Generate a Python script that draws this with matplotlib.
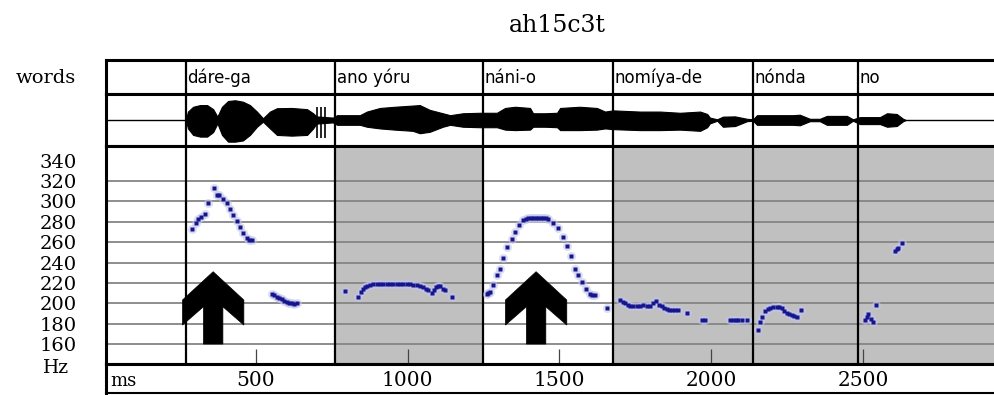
import matplotlib
matplotlib.use('Agg')
import matplotlib.pyplot as plt
from matplotlib.patches import Polygon

# ---------------- data ----------------
title = "ah15c3t"
row_label = "words"
words = ["dáre-ga", "ano yóru", "náni-o", "nomíya-de", "nónda", "no"]
word_start_ms = [270, 761, 1249, 1676, 2137, 2481]
word_shaded = [False, True, False, True, True, True]

y_ticks_hz = [340, 320, 300, 280, 260, 240, 220, 200, 180, 160]
grid_hz = [320, 300, 280, 260, 240, 220, 200, 180, 160]
y_unit = "Hz"
x_ticks_ms = [500, 1000, 1500, 2000, 2500]
x_unit = "ms"

arrow_ms = [360, 1423]

# waveform envelope (relative amplitude, upper / lower)
wave_ms = [270, 277, 294, 317, 340, 360, 374, 389, 409, 432, 458, 481, 504, 524,
           547, 570, 619, 669, 689, 700, 754, 768, 843, 866, 909, 958, 1017,
           1040, 1073, 1116, 1140, 1182, 1238, 1294, 1321, 1354, 1403, 1413,
           1452, 1492, 1502, 1567, 1623, 1650, 1676, 1765, 1831, 1897, 1963,
           1986, 1995, 2019, 2038, 2078, 2117, 2137, 2150, 2209, 2268, 2291,
           2324, 2357, 2380, 2446, 2466, 2489, 2555, 2578, 2610, 2631, 2640]
wave_up = [0.0, 0.35, 0.55, 0.62, 0.62, 0.45, 0.14, 0.55, 0.79, 0.82, 0.76, 0.62,
           0.35, 0.07, 0.35, 0.49, 0.50, 0.45, 0.28, 0.15, 0.10, 0.20, 0.20,
           0.35, 0.50, 0.55, 0.60, 0.62, 0.42, 0.28, 0.20, 0.28, 0.30, 0.30,
           0.50, 0.55, 0.50, 0.28, 0.28, 0.30, 0.50, 0.55, 0.50, 0.35, 0.40,
           0.35, 0.35, 0.30, 0.35, 0.25, 0.10, 0.03, 0.14, 0.15, 0.05, 0.03,
           0.20, 0.20, 0.20, 0.22, 0.05, 0.05, 0.17, 0.17, 0.03, 0.12, 0.12,
           0.28, 0.25, 0.05, 0.0]
wave_down = [0.0, 0.35, 0.62, 0.69, 0.69, 0.50, 0.14, 0.62, 0.90, 0.90, 0.85, 0.62,
             0.28, 0.07, 0.35, 0.62, 0.65, 0.62, 0.35, 0.15, 0.10, 0.20, 0.20,
             0.28, 0.35, 0.40, 0.45, 0.55, 0.49, 0.28, 0.20, 0.28, 0.30, 0.30,
             0.40, 0.42, 0.40, 0.28, 0.28, 0.30, 0.42, 0.42, 0.40, 0.35, 0.38,
             0.42, 0.42, 0.40, 0.45, 0.30, 0.14, 0.03, 0.28, 0.25, 0.05, 0.03,
             0.20, 0.20, 0.20, 0.22, 0.05, 0.05, 0.20, 0.20, 0.03, 0.17, 0.17,
             0.28, 0.25, 0.05, 0.0]
spike_ms = [701, 714, 728]

# pitch track (ms, Hz)
pitch_ms = [289, 303, 311, 320, 333, 344, 364, 371, 380, 391, 405, 415, 426, 437,
            448, 459, 470, 479, 487,
            553, 560, 569, 578, 586, 594, 602, 610, 618, 627, 635,
            794, 838, 845, 852, 860, 868, 876, 887, 898, 909, 920, 931, 942, 953,
            964, 975, 986, 997, 1008, 1019, 1030, 1041, 1052, 1060, 1068, 1079,
            1087, 1094, 1101, 1107, 1115, 1123, 1145,
            1260, 1266, 1271, 1282, 1293, 1304, 1315, 1328, 1343, 1353, 1368,
            1381, 1390, 1397, 1405, 1414, 1422, 1430, 1438, 1447, 1455, 1463,
            1480, 1496, 1510, 1524, 1537, 1551, 1562, 1575, 1587, 1600, 1608,
            1617, 1655,
            1699, 1708, 1716, 1724, 1732, 1743, 1754, 1765, 1776, 1787, 1798,
            1808, 1818, 1828, 1836, 1845, 1853, 1862, 1870, 1880, 1891, 1919,
            1968, 1979, 2061, 2070, 2080, 2089, 2100, 2116,
            2154, 2160, 2168, 2176, 2185, 2193, 2204, 2215, 2223, 2231, 2240,
            2248, 2256, 2264, 2272, 2281, 2295,
            2506, 2512, 2516, 2525, 2533, 2541, 2604, 2610, 2615, 2628]
pitch_hz = [273, 279, 283, 285, 288, 298, 313, 306, 306, 302, 298, 293, 287, 281,
            275, 269, 264, 262, 262,
            209, 208, 206, 205, 204, 202, 201, 200, 200, 199, 200,
            212, 206, 211, 214, 216, 217, 218, 218.5, 218.6, 219, 219, 219, 219,
            219, 219, 219, 219, 219, 218.5, 218, 218, 217, 216, 214, 213, 210,
            213, 216, 217, 217, 214, 213, 206,
            209, 210, 211, 218, 228, 234, 244, 255, 263, 270, 277,
            282, 283, 284, 284, 284, 284, 284, 284, 284, 283.5, 283,
            278.5, 273.5, 265, 256, 246, 234, 228, 221, 214, 209, 208,
            208, 195,
            203, 201, 200, 198, 197, 197, 197, 197.5, 198, 197, 197,
            200, 202, 198, 197, 195, 194, 193, 193, 193, 193, 190,
            184, 184, 184, 184, 184, 184, 184, 184,
            174, 182, 187, 192, 194, 195, 196.5, 196.6, 196, 195, 192,
            190, 189, 188.5, 187.5, 187, 193,
            184, 187, 189, 185, 182, 198, 251, 253, 254, 259]

# ---------------- layout ----------------
W, H = 995, 395
fig = plt.figure(figsize=(W / 100, H / 100), dpi=100)
fig.patch.set_facecolor('white')

PX0 = 103.8          # pixel of 0 ms
PXMS = 0.3038        # pixels per ms
LEFT_PX, RIGHT_PX = 106, 1000
xlim = ((LEFT_PX - PX0) / PXMS, (RIGHT_PX - PX0) / PXMS)


def add_row(top_px, bot_px):
    return fig.add_axes([LEFT_PX / W, 1 - bot_px / H,
                         (RIGHT_PX - LEFT_PX) / W, (bot_px - top_px) / H])


ax_w = add_row(60, 94)
ax_wave = add_row(94, 146)
ax_p = add_row(146, 364)
ax_x = add_row(364, 393)

THICK = 2.2
for ax in (ax_w, ax_wave, ax_p, ax_x):
    ax.set_xlim(*xlim)
    ax.set_facecolor('white')
    ax.spines['right'].set_visible(False)
    for s in ('left', 'top', 'bottom'):
        ax.spines[s].set_linewidth(THICK)
        ax.spines[s].set_color('black')
    ax.set_yticks([])
    ax.set_xticks([])
ax_x.spines['bottom'].set_linewidth(1.5)

serif = 'DejaVu Serif'

# word row
ax_w.set_ylim(0, 1)
for w, s in zip(words, word_start_ms):
    ax_w.text(s + 5, 0.47, w, ha='left', va='center', fontsize=12,
              family='DejaVu Sans', color='black')

# waveform
ax_wave.set_ylim(-1.08, 1.08)
ax_wave.axhline(0, color='black', lw=1.0)
ax_wave.fill_between(wave_ms, wave_up, [-v for v in wave_down],
                     color='black', lw=0.8, edgecolor='black')
ax_wave.vlines(spike_ms, -0.76, 0.55, color='black', lw=1.2)

# pitch area
ylo, yhi = 140.4, 354.4
ax_p.set_ylim(ylo, yhi)
bounds = word_start_ms + [xlim[1]]
for i, shaded in enumerate(word_shaded):
    if shaded:
        ax_p.axvspan(bounds[i], bounds[i + 1], color='#c0c0c0', lw=0, zorder=0)
for g in grid_hz:
    ax_p.axhline(g, color='#858585', lw=1.3, zorder=1)

# word boundaries
for ax in (ax_w, ax_wave, ax_p):
    for s in word_start_ms:
        ax.axvline(s, color='black', lw=1.6, zorder=3)

# arrows (shape in ms / Hz offsets)
for a in arrow_ms:
    hw, sw = 101, 32
    pts = [(a, 231), (a + hw, 203.2), (a + hw, 178.6), (a + sw, 196.6),
           (a + sw, 160), (a - sw, 160), (a - sw, 196.6), (a - hw, 178.6),
           (a - hw, 203.2)]
    ax_p.add_patch(Polygon(pts, closed=True, facecolor='black',
                           edgecolor='black', lw=0.5, zorder=4))

# pitch dots
ax_p.plot(pitch_ms, pitch_hz, ls='none', marker='o', ms=6.5,
          color='#c4c4ee', alpha=0.55, mec='none', zorder=5)
ax_p.plot(pitch_ms, pitch_hz, ls='none', marker='s', ms=2.9,
          color='#16168c', mec='none', zorder=6)

# y tick labels
ax_p.set_yticks(y_ticks_hz)
ax_p.set_yticklabels([str(v) for v in y_ticks_hz], family=serif, fontsize=14)
ax_p.tick_params(axis='y', length=0, pad=21)
# x ticks (inner marks)
ax_p.set_xticks(x_ticks_ms)
ax_p.tick_params(axis='x', direction='in', length=11, width=0.9,
                 color='#444444', labelbottom=False)

# axis row labels
trans = ax_x.get_xaxis_transform()
for t in x_ticks_ms:
    ax_x.text(t, 0.42, str(t), transform=trans, ha='center', va='center',
              family=serif, fontsize=14.5)
ax_x.text(0.005, 0.42, x_unit, transform=ax_x.transAxes, ha='left',
          va='center', family=serif, fontsize=13)
ax_x.set_ylim(0, 1)

# left labels & title
fig.text(76 / W, 1 - 78 / H, row_label, ha='right', va='center',
         family=serif, fontsize=14)
fig.text(56 / W, 1 - 368 / H, y_unit, ha='center', va='center',
         family=serif, fontsize=13.5)
fig.text(557 / W, 1 - 25 / H, title, ha='center', va='center',
         family=serif, fontsize=17)

fig.savefig('out.png', dpi=100, facecolor='white')
